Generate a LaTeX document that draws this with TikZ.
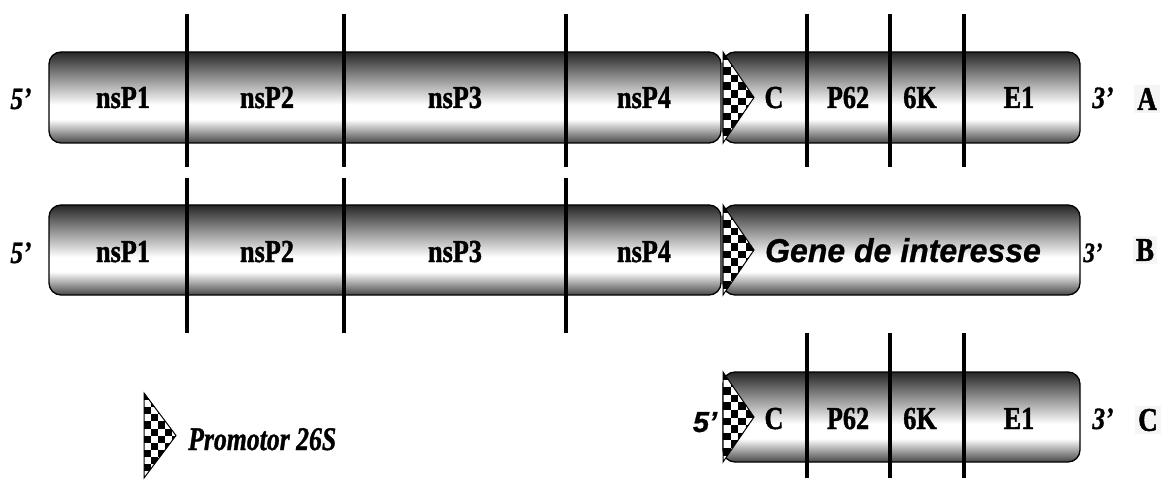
\documentclass[tikz,border=0pt]{standalone}
\usepackage{fontspec}
\setmainfont{Liberation Serif}[BoldFeatures={FakeBold=1.5},BoldItalicFeatures={FakeBold=1.2}]
\newfontfamily\arialf{Liberation Sans}[BoldItalicFeatures={FakeBold=0.8}]
\pgfdeclareverticalshading{tube}{100bp}{color(0bp)=(black!72); color(25bp)=(black!72); color(38bp)=(white); color(46bp)=(white); color(75bp)=(black!85); color(100bp)=(black!85)}
\newcommand\sq[1]{\scalebox{0.82}[1]{#1}}
% #1 left x, #2 top y, #3 bottom y, #4 apex x, #5 square size
\newcommand\checktri[5]{%
  \begin{scope}
    \clip (#1,#2) -- (#4,{(#2+#3)/2}) -- (#1,#3) -- cycle;
    \fill[white] (#1,#2) rectangle (#4,#3);
    \foreach \i in {0,...,5}{\foreach \j in {0,...,13}{%
      \pgfmathtruncatemacro\pp{mod(\i+\j,2)}%
      \ifnum\pp=0 \fill[black] ({#1+\i*#5},{#2+\j*#5}) rectangle +(#5,#5);\fi}}
  \end{scope}
  \draw[line width=1pt,line join=miter] (#1,#2) -- (#4,{(#2+#3)/2}) -- (#1,#3) -- cycle;}
\tikzset{
  bar/.style={draw=black,line width=1.3pt,rounded corners=12pt,shading=tube},
  sep/.style={line width=3.6pt},
  lab/.style={font=\fontsize{32}{32}\selectfont\bfseries,anchor=base,inner sep=0pt},
  prime/.style={font=\fontsize{31}{31}\selectfont\bfseries\itshape,anchor=base,inner sep=0pt},
  rowlab/.style={font=\fontsize{33}{33}\selectfont\bfseries,anchor=base,inner sep=3pt,fill=black!4}
}
\begin{document}
\begin{tikzpicture}[x=1pt,y=-1pt]
\useasboundingbox (0,0) rectangle (1164,481);
% ---------- Row A ----------
\shade[bar] (49,52) rectangle (721,143);
\shade[bar] (723,52) rectangle (1080,143);
\checktri{723}{52}{143}{754}{7.6}
\foreach \x in {187,344,566,807,890,964} \draw[sep] (\x,14) -- (\x,167);
\node[prime] (a5) at (21,109) {\sq{5’}};
\node[lab] (a1) at (123,108) {\sq{nsP1}};
\node[lab] (a2) at (267,108) {\sq{nsP2}};
\node[lab] (a3) at (455,108) {\sq{nsP3}};
\node[lab] (a4) at (644,108) {\sq{nsP4}};
\node[lab] (ac) at (774,108) {\sq{C}};
\node[lab] (ap) at (848,108) {\sq{P62}};
\node[lab] (ak) at (920,108) {\sq{6K}};
\node[lab] (ae) at (1019,108) {\sq{E1}};
\node[prime] (a3p) at (1103,108) {\sq{3’}};
\node[rowlab,anchor=center] (A) at (1147,99) {\sq{A}};
% ---------- Row B ----------
\shade[bar] (49,205) rectangle (721,295);
\shade[bar] (723,205) rectangle (1080,295);
\checktri{723}{205}{295}{754}{7.6}
\foreach \x in {187,344,566} \draw[sep] (\x,178) -- (\x,333);
\node[prime] (b5) at (21,263) {\sq{5’}};
\node[lab] (b1) at (123,262) {\sq{nsP1}};
\node[lab] (b2) at (267,262) {\sq{nsP2}};
\node[lab] (b3) at (455,262) {\sq{nsP3}};
\node[lab] (b4) at (644,262) {\sq{nsP4}};
\node[font=\fontsize{33}{33}\selectfont\arialf\bfseries\itshape,anchor=base,inner sep=0pt] (bg) at (903,262) {\scalebox{0.97}[1]{Gene de interesse}};
\node[prime,font=\fontsize{28}{28}\selectfont\bfseries\itshape] (b3p) at (1093,262) {\sq{3’}};
\node[rowlab,anchor=center] (B) at (1145,250) {\sq{B}};
% ---------- Row C ----------
\shade[bar] (723,372) rectangle (1080,462);
\checktri{723}{372}{462}{754}{7.6}
\foreach \x in {807,890,964} \draw[sep] (\x,333) -- (\x,478);
\node[font=\fontsize{29}{29}\selectfont\arialf\bfseries\itshape,anchor=base,inner sep=0pt] (c5) at (705,432) {5’};
\node[lab] (cc) at (774,429) {\sq{C}};
\node[lab] (cp) at (848,429) {\sq{P62}};
\node[lab] (ck) at (920,429) {\sq{6K}};
\node[lab] (ce) at (1019,429) {\sq{E1}};
\node[prime] (c3p) at (1103,429) {\sq{3’}};
\node[rowlab,anchor=center] (C) at (1148,420) {\sq{C}};
% ---------- Legend ----------
\checktri{144}{393}{478}{176}{7.1}
\node[font=\fontsize{33}{33}\selectfont\bfseries\itshape,anchor=base west,inner sep=0pt] (leg) at (188,450) {\scalebox{0.78}[1]{Promotor 26S}};
\end{tikzpicture}
\end{document}
